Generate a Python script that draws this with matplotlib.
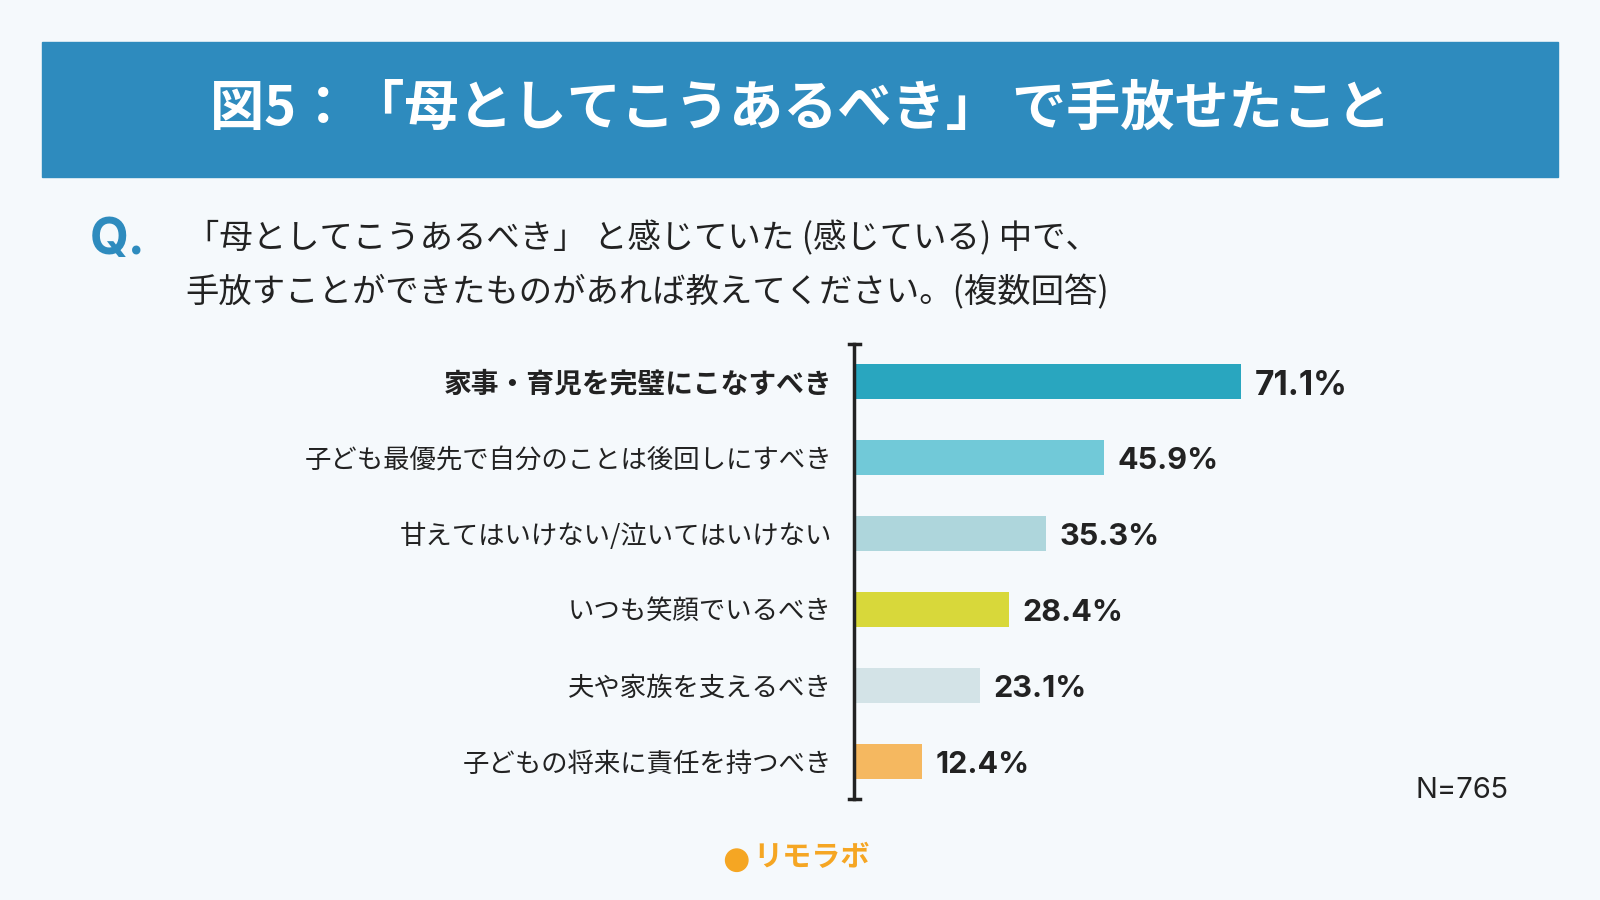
import matplotlib
matplotlib.use("Agg")
import matplotlib.pyplot as plt
from matplotlib.patches import Rectangle, Ellipse

plt.rcParams["font.family"] = "Noto Sans CJK JP"

categories = ["家事・育児を完璧にこなすべき", "子ども最優先で自分のことは後回しにすべき",
              "甘えてはいけない/泣いてはいけない", "いつも笑顔でいるべき",
              "夫や家族を支えるべき", "子どもの将来に責任を持つべき"]
values = [71.1, 45.9, 35.3, 28.4, 23.1, 12.4]
colors = ["#29A6BF", "#71C9D8", "#AED6DC", "#D8D83A", "#D3E3E7", "#F5B860"]

W, H = 1568, 882
fig = plt.figure(figsize=(16, 9), dpi=100, facecolor="#F5F9FC")

def fx(x): return x / W
def fy(y): return 1 - y / H

fig.patches.append(Rectangle((fx(41), fy(173)), fx(1527 - 41), (173 - 41) / H,
                             transform=fig.transFigure, color="#2E8BBE", zorder=0))
fig.text(fx(784), fy(107), "図5：「母としてこうあるべき」 で手放せたこと", color="white",
         fontsize=39, fontweight="bold", ha="center", va="center")
fig.text(fx(88), fy(236), "Q.", color="#2E8BBE", fontsize=36, fontweight="bold",
         family="Inter", ha="left", va="center")
fig.text(fx(182), fy(234), "「母としてこうあるべき」 と感じていた (感じている) 中で、",
         fontsize=24, color="#222222", ha="left", va="center")
fig.text(fx(182), fy(287), "手放すことができたものがあれば教えてください。(複数回答)",
         fontsize=24, color="#222222", ha="left", va="center")

ax = fig.add_axes([fx(837), fy(783), fx(533), (783 - 337) / H])
ax.set_facecolor("none")
y = list(range(len(values)))
ax.barh(y, values, height=0.46, color=colors, left=0)
ax.set_xlim(0, 100)
ax.set_ylim(len(values) - 0.5, -0.5)
for s in ["top", "right", "bottom"]:
    ax.spines[s].set_visible(False)
ax.spines["left"].set_linewidth(2.5)
ax.spines["left"].set_color("#222222")
ax.set_xticks([])
ax.set_yticks(y)
ax.set_yticklabels(categories, fontsize=19, color="#222222")
ax.tick_params(axis="y", length=0, pad=16)
ax.get_yticklabels()[0].set_fontweight("bold")
ax.get_yticklabels()[0].set_fontsize(20)
ax.plot([-1, 1], [-0.5, -0.5], color="#222222", lw=2.5, clip_on=False)
ax.plot([-1, 1], [len(values) - 0.5] * 2, color="#222222", lw=2.5, clip_on=False)
for i, v in enumerate(values):
    ax.text(v + 2.5, i + 0.05, f"{v}%", va="center", ha="left", family="Inter",
            fontsize=24 if i == 0 else 22, fontweight="bold", color="#222222")

fig.text(fx(1478), fy(775), "N=765", fontsize=21, family="Inter", color="#222222",
         ha="right", va="center")
fig.patches.append(Ellipse((fx(722), fy(843)), 0.014, 0.014 * 16 / 9,
                           transform=fig.transFigure, color="#F5A623"))
fig.text(fx(738), fy(840), "リモラボ", fontsize=21, fontweight="bold", color="#F5A623",
         ha="left", va="center")

fig.savefig("out.png", dpi=100, facecolor=fig.get_facecolor())
